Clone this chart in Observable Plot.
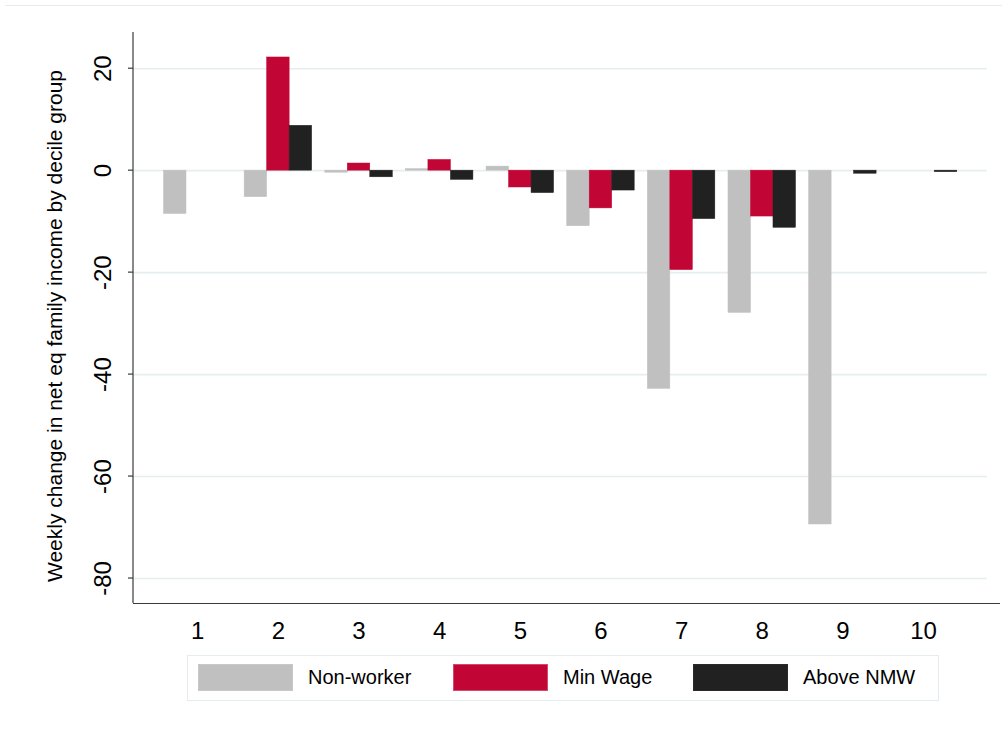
<!DOCTYPE html>
<html>
<head>
<meta charset="utf-8">
<script src="https://cdn.jsdelivr.net/npm/d3@7"></script>
<script src="https://cdn.jsdelivr.net/npm/@observablehq/plot@0.6"></script>
<style>
  body { margin: 0; background: #fff; font-family: "Liberation Sans", Arial, sans-serif; }
  #wrap { position: relative; width: 1002px; height: 733px; overflow: hidden; }
  #border { position: absolute; left: 5px; top: 5px; width: 997px; height: 0; border-top: 1px solid #ebebeb; }
  #legend { position: absolute; left: 187px; top: 655px; width: 752px; height: 46px; border: 1px solid #e3ecee; box-sizing: border-box; }
  .item { position: absolute; top: 8px; display: flex; align-items: center; font-size: 20px; color: #000; }
  .sw { width: 95px; height: 27px; margin-right: 15px; box-sizing: border-box; }
</style>
</head>
<body>
<div id="wrap">
  <div id="border"></div>
  <div id="chart"></div>
  <div id="legend"></div>
</div>
<script>
const deciles = [1, 2, 3, 4, 5, 6, 7, 8, 9, 10];
const seriesNames = ["Non-worker", "Min Wage", "Above NMW"];
const seriesColors = ["#c0c0c0", "#c10534", "#212121"];
const nonWorker = [-8.5, -5.2, -0.4, 0.3, 0.8, -10.9, -42.8, -27.9, -69.4, 0];
const minWage   = [0, 22.2, 1.4, 2.1, -3.3, -7.4, -19.5, -9.0, 0, 0];
const aboveNMW  = [0, 8.8, -1.3, -1.8, -4.4, -3.9, -9.5, -11.2, -0.6, -0.3];
const yTicks = [20, 0, -20, -40, -60, -80];
const yDomain = [-84.9, 27.1];
const yTitle = "Weekly change in net eq family income by decile group";

const seriesValues = [nonWorker, minWage, aboveNMW];
const rows = seriesValues.map((vals, s) =>
  deciles.map((d, i) => ({decile: d, series: seriesNames[s], value: vals[i]})).filter(r => r.value !== 0)
);

const bw = 67.5; // group width
const insets = [
  {insetLeft: 0, insetRight: bw * 2 / 3},
  {insetLeft: bw / 3, insetRight: bw / 3},
  {insetLeft: bw * 2 / 3, insetRight: 0}
];

const chart = Plot.plot({
  width: 1002,
  height: 645,
  marginLeft: 133,
  marginRight: 2,
  marginTop: 32,
  marginBottom: 42,
  style: {fontFamily: "'Liberation Sans', Arial, sans-serif", background: "transparent"},
  x: {type: "band", domain: deciles, range: [163.5, 956.75], paddingInner: 0.163, paddingOuter: 0, round: false, axis: null},
  y: {domain: yDomain, axis: null},
  marks: [
    Plot.ruleY(yTicks, {stroke: "#e5eef0", strokeWidth: 1.6, insetRight: 13}),
    ...rows.map((r, s) => Plot.barY(r, {
      x: "decile", y: "value", fill: seriesColors[s],
      stroke: seriesColors[s], strokeWidth: 0.5,
      ...insets[s]
    })),
    // axis lines
    Plot.ruleY([yDomain[0]], {stroke: "#3a3a3a", strokeWidth: 1.2}),
    (index, scales, values, dims) => {
      const g = d3.create("svg:g");
      g.append("line").attr("x1", dims.marginLeft).attr("x2", dims.marginLeft)
        .attr("y1", dims.marginTop).attr("y2", dims.height - dims.marginBottom)
        .attr("stroke", "#3a3a3a").attr("stroke-width", 1.2);
      for (const t of yTicks) {
        const yy = scales.y(t);
        g.append("line").attr("x1", dims.marginLeft - 5).attr("x2", dims.marginLeft)
          .attr("y1", yy).attr("y2", yy).attr("stroke", "#3a3a3a").attr("stroke-width", 1.2);
      }
      return g.node();
    },
    Plot.text(yTicks, {y: d => d, text: d => String(d), frameAnchor: "left", dx: -30, rotate: -90,
      textAnchor: "middle", lineAnchor: "middle", fontSize: 24, fill: "#000"}),
    Plot.text([yTitle], {text: d => d, frameAnchor: "left", dx: -78, dy: 8, rotate: -90,
      textAnchor: "middle", lineAnchor: "middle", fontSize: 21, fill: "#000"}),
    Plot.text(deciles, {x: d => d, text: d => String(d), frameAnchor: "bottom", dy: 28,
      textAnchor: "middle", lineAnchor: "middle", fontSize: 24, fill: "#000"})
  ]
});
document.getElementById("chart").appendChild(chart);

const lefts = [10, 265, 505];
const legend = document.getElementById("legend");
seriesNames.forEach((n, i) => {
  const it = document.createElement("div");
  it.className = "item";
  it.style.left = lefts[i] + "px";
  const sw = document.createElement("div");
  sw.className = "sw";
  sw.style.background = seriesColors[i];
  sw.style.border = "1px solid " + (i === 1 ? "#d44a6a" : i === 0 ? "#c8c8c8" : "#2a2a2a");
  const tx = document.createElement("span");
  tx.textContent = n;
  it.appendChild(sw); it.appendChild(tx);
  legend.appendChild(it);
});
</script>
</body>
</html>
